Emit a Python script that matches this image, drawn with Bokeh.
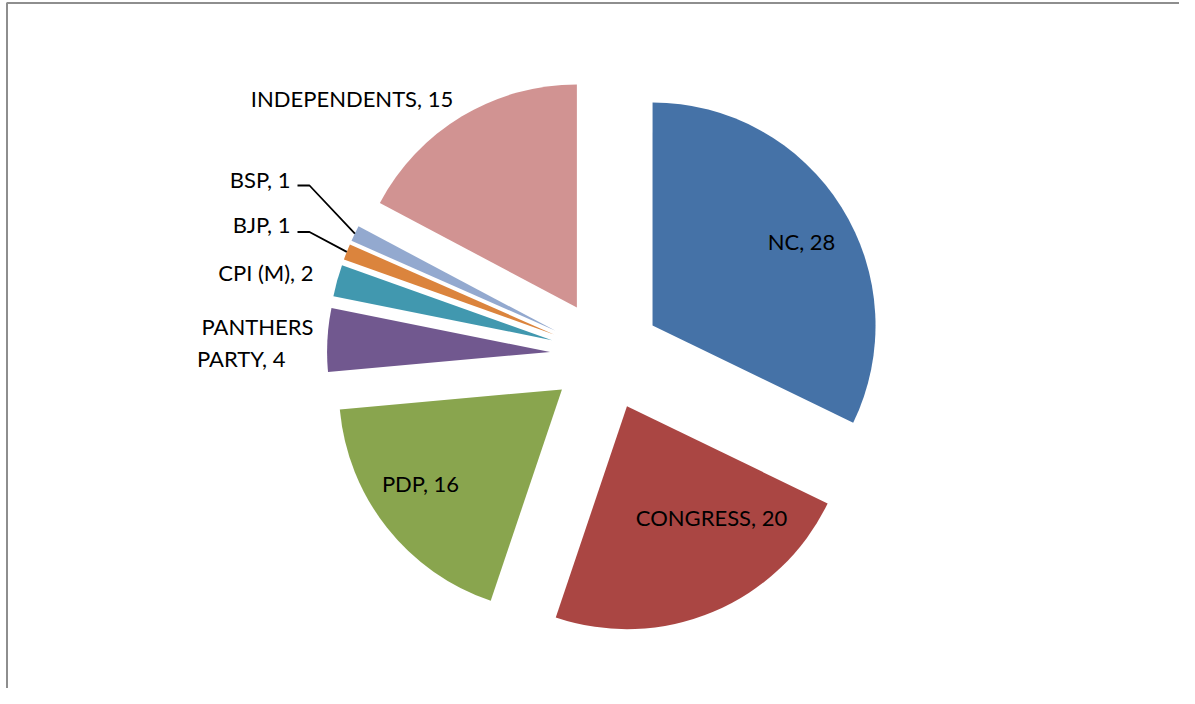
import math
from bokeh.plotting import figure
from bokeh.models import Range1d
from bokeh.core.properties import value
from bokeh.embed import file_html
from bokeh.resources import INLINE

# ---- data ----
parties = ["NC", "CONGRESS", "PDP", "PANTHERS PARTY", "CPI (M)", "BJP", "BSP", "INDEPENDENTS"]
seats = [28, 20, 16, 4, 2, 1, 1, 15]
colors = ["#4572A7", "#AA4643", "#89A54E", "#71588F", "#4198AF", "#DB843D", "#93A9CF", "#D19392"]

# ---- layout (picture pixels) ----
W, H = 1179, 688
TEXT_SHIFT = -7


def tx(sx):
    return sx


def ty(sy):
    return H - sy


cx, cy = tx(605), ty(354.5)
R = 223
EXPLODE = 55.5

p = figure(width=W, height=H, output_backend="svg", toolbar_location=None,
           x_range=Range1d(0, W), y_range=Range1d(0, H), min_border=0)
p.axis.visible = False
p.grid.visible = False
p.outline_line_color = None
p.background_fill_color = "white"
p.border_fill_color = "white"

total = sum(seats)
cum = 0.0
mids = []
for party, s, col in zip(parties, seats, colors):
    t1 = cum / total * 360.0
    t2 = (cum + s) / total * 360.0
    cum += s
    tm = math.radians((t1 + t2) / 2)
    ox = cx + EXPLODE * math.sin(tm)
    oy = cy + EXPLODE * math.cos(tm)
    start = math.radians(90 - t2)
    end = math.radians(90 - t1)
    p.wedge(x=[ox], y=[oy], radius=R, start_angle=[start], end_angle=[end],
            fill_color=col, line_color=None)
    mids.append((ox + R * math.sin(tm), oy + R * math.cos(tm)))

# labels
label_pos = {
    "NC": [(801, 248, "center")],
    "CONGRESS": [(711, 524, "center")],
    "PDP": [(420, 490, "center")],
    "PANTHERS PARTY": [(313, 333, "right"), (285, 365, "right")],
    "CPI (M)": [(313, 279, "right")],
    "BJP": [(290, 231, "right")],
    "BSP": [(290, 186, "right")],
    "INDEPENDENTS": [(351.5, 105, "center")],
}
for party, s in zip(parties, seats):
    txt = f"{party}, {s}"
    pos = label_pos[party]
    lines = txt.split(" ", 1) if len(pos) == 2 else [txt]
    for line, (sx, sy, al) in zip(lines, pos):
        p.text(x=[tx(sx)], y=[ty(sy + TEXT_SHIFT)], text=[line], text_font=value("Lato"),
               text_font_size="22px", text_color="black", text_align=al,
               text_baseline="alphabetic")

# leader lines for tiny slices
leader_y = {"BSP": 185, "BJP": 231.5}
for i, party in enumerate(parties):
    if party in leader_y:
        ly = leader_y[party]
        mx, my = mids[i]
        p.line(x=[tx(297), tx(309), mx], y=[ty(ly), ty(ly), my],
               line_color="black", line_width=1.8)

# chart border (left & top visible)
p.line(x=[tx(6.5), tx(6.5), W], y=[0, ty(2.5), ty(2.5)], line_color="#8e8e8e", line_width=2)

open("out.html", "w").write(file_html(p, INLINE))
